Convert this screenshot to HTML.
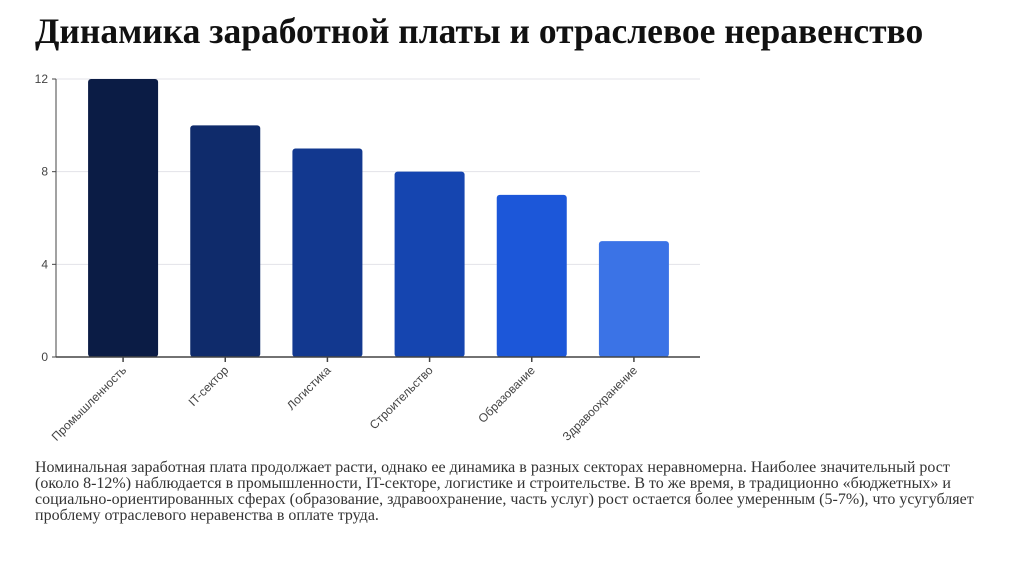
<!DOCTYPE html>
<html><head><meta charset="utf-8"><style>
body{margin:0;background:#fff;width:1024px;height:574px;overflow:hidden;position:relative}
h1{position:absolute;left:35px;top:10px;margin:0;font:bold 35.5px "Liberation Serif",serif;color:#111}
p{position:absolute;left:35px;top:460px;width:962px;margin:0;font:16px/16px "Liberation Serif",serif;color:#333}
svg{position:absolute;left:0;top:0}
</style></head><body>
<h1>Динамика заработной платы и отраслевое неравенство</h1>
<svg id="c" width="1024" height="574"></svg>
<p>Номинальная заработная плата продолжает расти, однако ее динамика в разных секторах неравномерна. Наиболее значительный рост (около 8-12%) наблюдается в промышленности, IT-секторе, логистике и строительстве. В то же время, в традиционно «бюджетных» и социально-ориентированных сферах (образование, здравоохранение, часть услуг) рост остается более умеренным (5-7%), что усугубляет проблему отраслевого неравенства в оплате труда.</p>
<script>
const categories=["Промышленность","IT-сектор","Логистика","Строительство","Образование","Здравоохранение"];
const values=[12,10,9,8,7,5];
const ticks=[0,4,8,12];
const colors=["#0b1c45","#0f2b6b","#12388f","#1545b0","#1c57d9","#3b73e6"];
const svg=document.getElementById('c'),NS="http://www.w3.org/2000/svg";
const X0=56,X1=700,Y0=357,Y1=79,maxV=12;
const y=v=>Y0-(v/maxV)*(Y0-Y1);
const PX0=72,PX1=685;
const step=(PX1-PX0)/categories.length;
const xc=i=>PX0+step*(i+0.5);
function el(t,a){const e=document.createElementNS(NS,t);for(const k in a)e.setAttribute(k,a[k]);svg.appendChild(e);return e;}
ticks.forEach(t=>{
 if(t>0){const g=el('line',{x1:X0,x2:X1,y1:y(t),y2:y(t),stroke:'#e3e3e8','stroke-width':1});
 }
 el('line',{x1:X0-4,x2:X0,y1:y(t),y2:y(t),stroke:'#444'});
 const tx=el('text',{x:X0-8,y:y(t)+4,'text-anchor':'end','font-family':'Liberation Sans, sans-serif','font-size':12,fill:'#444'});
 tx.textContent=t;
 
 
});
values.forEach((v,i)=>{
 const w=70,b=el('rect',{x:xc(i)-w/2,y:y(v),width:w,height:Y0-y(v),rx:3,fill:colors[i]});
 
 
 el('line',{x1:xc(i),x2:xc(i),y1:Y0,y2:Y0+5,stroke:'#444','stroke-width':1.5});
 const t=el('text',{x:xc(i)+4,y:Y0+14,'text-anchor':'end','font-family':'Liberation Sans, sans-serif','font-size':12,fill:'#444',transform:`rotate(-45 ${xc(i)+4} ${Y0+14})`});
 t.textContent=categories[i];
 
 
});
const ax=el('line',{x1:X0,x2:X1,y1:Y0,y2:Y0,stroke:'#444','stroke-width':1.5});


const ay=el('line',{x1:X0,x2:X0,y1:Y1,y2:Y0,stroke:'#444','stroke-width':1});


</script>
</body></html>
